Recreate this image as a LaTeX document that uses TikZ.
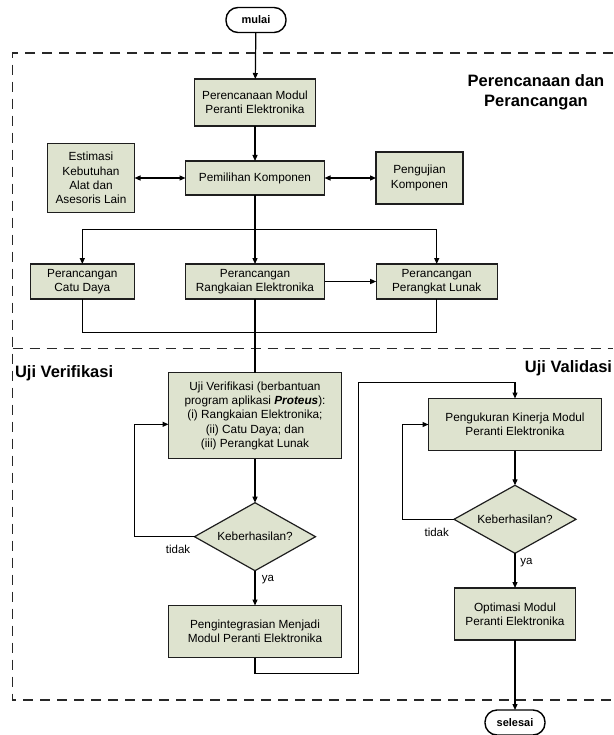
\documentclass[tikz,border=0pt]{standalone}
\usepackage{fontspec}
\setmainfont{Liberation Sans}
\usetikzlibrary{arrows.meta,shapes.geometric,calc}
\definecolor{boxfill}{RGB}{222,227,207}
\definecolor{boxline}{RGB}{30,30,30}
\definecolor{dashline}{RGB}{40,40,40}
\begin{document}
\begin{tikzpicture}[x=1pt,y=-1pt,
  every node/.style={font=\fontsize{11.8}{14.3}\selectfont, inner sep=0pt, outer sep=0pt},
  procbox/.style={draw=boxline, fill=boxfill, line width=1.2pt, align=center, minimum height=#1},
  decbox/.style={draw=boxline, fill=boxfill, line width=1.2pt, diamond, aspect=1.78, minimum width=121pt, minimum height=68pt, align=center},
  termbox/.style={draw=black, fill=white, line width=1.4pt, rounded corners=12pt, minimum width=60pt, minimum height=25pt, font=\fontsize{11}{13}\selectfont\bfseries},
  conn/.style={line width=1.2pt, draw=black},
  arr/.style={conn, -{Triangle[length=6pt,width=5pt]}},
  biarr/.style={conn, {Triangle[length=6pt,width=5pt]}-{Triangle[length=6pt,width=5pt]}},
  phase/.style={font=\fontsize{16.5}{20}\selectfont\bfseries, align=center},
  zone/.style={draw=dashline, line width=1.3pt, dash pattern=on 10pt off 7pt},
  lbl/.style={font=\fontsize{11.5}{13}\selectfont}
]
\useasboundingbox (0,0) rectangle (613,735);

% phase frames
\draw[zone] (613,53) -- (12.7,53) -- (12.7,700) -- (613,700);
\draw[zone] (12.7,348.3) -- (613,348.3);

% phase titles
\node[phase] (tplan) at (536,92) {Perencanaan dan\\Perancangan};
\node[phase, anchor=west] (tverif) at (15,373.5) {Uji Verifikasi};
\node[phase, anchor=east] (tvalid) at (612,368) {Uji Validasi};

% terminals
\node[termbox] (mulai) at (256,20) {mulai};
\node[termbox] (selesai) at (515,722.5) {selesai};

% planning and design
\node[procbox=47pt, minimum width=121pt] (plan) at (255,102.5) {Perencanaan Modul\\Peranti Elektronika};
\node[procbox=34pt, minimum width=139pt] (pilih) at (255,178) {Pemilihan Komponen};
\node[procbox=69pt, minimum width=87pt] (estim) at (91,178) {Estimasi\\Kebutuhan\\Alat dan\\Asesoris Lain};
\node[procbox=52pt, minimum width=87pt] (ujik) at (419.5,178) {Pengujian\\Komponen};
\node[procbox=35pt, minimum width=104pt] (catu) at (82.3,281.5) {Perancangan\\Catu Daya};
\node[procbox=35pt, minimum width=139pt] (rangk) at (255,281.5) {Perancangan\\Rangkaian Elektronika};
\node[procbox=35pt, minimum width=121pt] (lunak) at (436.7,281.5) {Perancangan\\Perangkat Lunak};

% verification
\node[procbox=86pt, minimum width=173pt] (verif) at (255,415.8) {Uji Verifikasi (berbantuan\\program aplikasi \textbf{\textit{Proteus}}):\\(i) Rangkaian Elektronika;\\(ii) Catu Daya; dan\\(iii) Perangkat Lunak};
\node[decbox] (dec1) at (255,536.7) {Keberhasilan?};
\node[procbox=52pt, minimum width=173pt] (integ) at (255,631.5) {Pengintegrasian Menjadi\\Modul Peranti Elektronika};

% validation
\node[procbox=52pt, minimum width=173pt] (ukur) at (515,424.5) {Pengukuran Kinerja Modul\\Peranti Elektronika};
\node[decbox, minimum width=122pt] (dec2) at (515,519.3) {Keberhasilan?};
\node[procbox=52pt, minimum width=121pt] (optim) at (515,614) {Optimasi Modul\\Peranti Elektronika};

% routing points
\coordinate (split) at (255,229.3);
\coordinate (merge) at (255,332.7);
\coordinate (loop1) at (134.3,536.7);
\coordinate (loop2) at (402.3,519.3);
\coordinate (up1) at (358.3,673.3);
\coordinate (up2) at (358.3,382.3);

% connectors: planning
\draw[arr] (mulai) -- (plan);
\draw[arr] (plan) -- (pilih);
\draw[biarr] (estim) -- (pilih);
\draw[biarr] (pilih) -- (ujik);
\draw[conn] (pilih) -- (split);
\draw[arr] (split) -| (catu.north);
\draw[arr] (split) -- (rangk);
\draw[arr] (split) -| (lunak.north);
\draw[arr] (rangk) -- (lunak);
\draw[conn] (catu.south) |- (merge) -| (lunak.south);
\draw[conn] (rangk) -- (verif);

% connectors: verification
\draw[arr] (verif) -- (dec1);
\draw[arr] (dec1.west) -- (loop1) |- ([yshift=-8.5pt]verif.west);
\node[lbl] (no1) at (178,549.7) {tidak};
\draw[arr] (dec1) -- (integ);
\node[lbl] (yes1) at (268,580) {ya};
\draw[arr] (integ.south) |- (up1) -- (up2) -| (ukur.north);

% connectors: validation
\draw[arr] (ukur) -- (dec2);
\draw[arr] (dec2.west) -- (loop2) |- (ukur.west);
\node[lbl] (no2) at (436.7,532) {tidak};
\draw[arr] (dec2) -- (optim);
\node[lbl] (yes2) at (526.5,562.7) {ya};
\draw[arr] (optim) -- (selesai);
\end{tikzpicture}
\end{document}
